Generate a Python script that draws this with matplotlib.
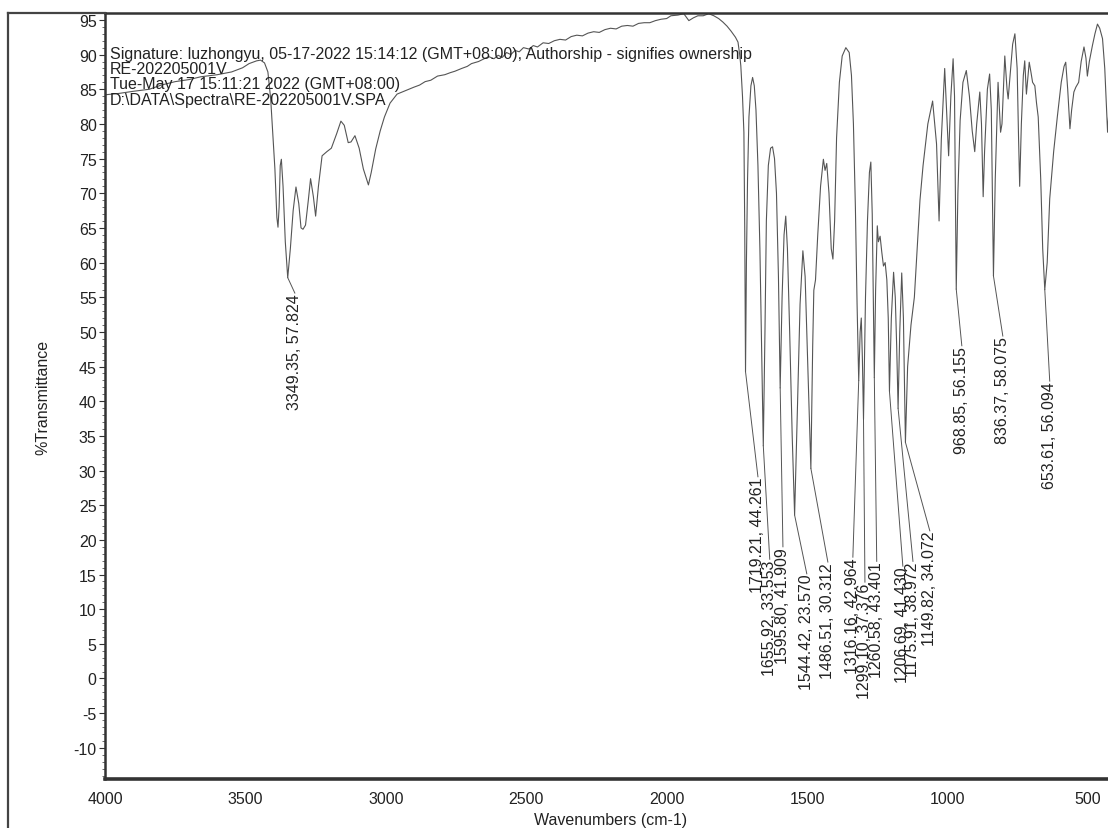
import matplotlib
matplotlib.use("Agg")
import matplotlib.pyplot as plt
from matplotlib.ticker import MultipleLocator, FixedLocator
from matplotlib.lines import Line2D

plt.rcParams['font.family'] = ['Liberation Sans', 'DejaVu Sans']
plt.rcParams['axes.unicode_minus'] = False

# ---------------- data ----------------
spectrum_wn = [
    4000, 3950, 3900, 3842, 3800, 3750, 3700, 3659, 3600, 3549, 3510, 3487, 3460, 3446, 3432, 3420,
    3410, 3400, 3395, 3388, 3384, 3380, 3376, 3372, 3366, 3358, 3340, 3330, 3320, 3310, 3302, 3295,
    3286, 3276, 3268, 3258, 3250, 3240, 3227, 3210, 3194, 3175, 3160, 3148, 3134, 3124, 3110, 3095,
    3080, 3068, 3062, 3052, 3036, 3020, 3005, 2985, 2960, 2930, 2900, 2880, 2860, 2840, 2816, 2790,
    2770, 2754, 2730, 2710, 2695, 2670, 2650, 2633, 2615, 2600, 2585, 2570, 2555, 2540, 2525, 2510,
    2490, 2475, 2460, 2440, 2420, 2400, 2380, 2360, 2340, 2320, 2300, 2280, 2260, 2240, 2220, 2200,
    2180, 2160, 2140, 2120, 2100, 2080, 2060, 2040, 2020, 2000, 1985, 1960, 1939, 1928, 1921, 1905,
    1889, 1870, 1850, 1832, 1815, 1800, 1785, 1771, 1755, 1746, 1740, 1736, 1730, 1725, 1722,
    1716, 1712, 1707, 1700, 1694, 1688, 1682, 1675, 1668, 1662,
    1650, 1645, 1638, 1630, 1623, 1616, 1609, 1602,
    1589, 1582, 1576, 1570, 1562, 1553,
    1535, 1525, 1515, 1507, 1498,
    1480, 1476, 1470, 1462, 1452, 1442, 1436, 1430, 1422, 1414, 1408, 1402, 1395, 1385, 1375, 1362,
    1350, 1342, 1335, 1328, 1322,
    1311, 1307, 1303,
    1292, 1285, 1278, 1273, 1268, 1264,
    1256, 1250, 1246, 1240, 1234, 1228, 1222, 1216, 1211,
    1200, 1192, 1186, 1181,
    1170, 1163, 1157,
    1142, 1130, 1118, 1108, 1098, 1087, 1070, 1053, 1039, 1030, 1022, 1010, 996, 988, 980, 975,
    963, 955, 945, 933, 922, 912, 903, 896, 885, 879, 873, 868, 858, 850, 844,
    830, 823, 820, 811, 806, 796, 788, 784, 775, 768, 760, 752, 747, 743, 737, 730, 725, 719, 709,
    703, 697, 689, 683, 677, 668, 661,
    645, 636, 622, 609, 595, 585, 579, 572, 564, 558, 550, 543, 533, 524, 514, 507, 502, 495, 484,
    475, 466, 458, 448, 440, 430, 422, 410, 400,
]
spectrum_T = [
    84.2, 84.4, 84.7, 85.0, 85.6, 86.1, 86.4, 86.8, 87.1, 87.5, 88.1, 88.7, 89.1, 89.2, 88.8, 87.5,
    83.6, 77.0, 73.5, 66.5, 65.1, 68.0, 74.0, 74.9, 71.0, 63.0, 62.0, 67.5, 70.9, 68.5, 65.0, 64.8,
    65.4, 69.0, 72.1, 69.5, 66.7, 71.0, 75.4, 76.0, 76.5, 78.6, 80.4, 79.8, 77.3, 77.4, 78.3, 76.5,
    73.5, 72.0, 71.2, 73.0, 76.4, 79.0, 81.0, 83.0, 84.3, 84.8, 85.3, 85.6, 86.1, 86.3, 86.9, 87.1,
    87.4, 87.6, 88.0, 88.3, 88.7, 89.0, 89.4, 89.7, 89.4, 89.9, 89.6, 90.3, 90.0, 90.6, 90.4, 91.0,
    90.8, 91.3, 91.1, 91.7, 91.6, 92.0, 92.2, 92.1, 92.6, 92.8, 92.7, 93.1, 93.3, 93.2, 93.6, 93.8,
    93.7, 94.1, 94.2, 94.1, 94.5, 94.6, 94.6, 94.9, 95.1, 95.2, 95.6, 95.7, 95.9, 95.3, 94.9, 95.3,
    95.6, 95.6, 95.9, 95.6, 95.2, 94.7, 94.1, 93.4, 92.5, 91.8, 90.0, 88.4, 84.0, 78.8, 65.0,
    60.0, 72.0, 81.0, 85.5, 86.7, 85.5, 82.0, 74.0, 62.0, 48.0,
    50.0, 66.0, 74.0, 76.5, 76.7, 75.0, 70.0, 58.0,
    55.0, 64.0, 66.7, 62.0, 50.0, 35.0,
    38.0, 54.0, 61.7, 58.0, 46.0,
    48.0, 56.0, 57.5, 64.0, 71.0, 74.9, 73.3, 74.3, 70.0, 62.0, 60.5, 66.0, 78.0, 86.0, 89.8, 91.0,
    90.3, 87.0, 80.0, 68.0, 54.0,
    50.0, 52.0, 46.0,
    55.0, 66.0, 73.0, 74.5, 67.0, 54.0,
    56.0, 65.3, 63.0, 63.8, 61.5, 59.5, 60.0, 57.5, 52.0,
    52.0, 58.6, 55.0, 48.0,
    50.0, 58.5, 52.0,
    45.0, 51.0, 55.0, 62.0, 69.0, 74.0, 80.0, 83.3, 77.1, 66.0, 77.8, 88.0, 75.4, 84.0, 89.4, 84.0,
    70.0, 80.5, 86.0, 87.7, 84.0, 79.0, 76.0, 80.0, 84.6, 80.0, 69.5, 76.0, 85.0, 87.2, 82.0,
    72.0, 82.0, 86.0, 78.8, 80.0, 89.8, 85.0, 83.6, 88.0, 91.5, 93.0, 88.0, 78.0, 71.0, 80.0, 87.0, 89.1, 84.3, 88.9,
    87.5, 86.0, 85.5, 83.0, 81.0, 72.0, 62.0,
    60.0, 69.2, 76.0, 81.0, 86.0, 88.3, 88.9, 85.0, 79.3, 82.0, 84.6, 85.3, 86.0, 89.0, 91.1, 89.5, 86.9, 89.0, 91.3,
    93.0, 94.4, 93.8, 92.3, 88.0, 78.8, 84.0, 90.0, 91.0,
]

peak_wn = [3349.35, 1719.21, 1655.92, 1595.80, 1544.42, 1486.51, 1316.16, 1299.10,
           1260.58, 1206.69, 1175.91, 1149.82, 968.85, 836.37, 653.61]
peak_T = [57.824, 44.261, 33.553, 41.909, 23.570, 30.312, 42.964, 37.376,
          43.401, 41.430, 38.972, 34.072, 56.155, 58.075, 56.094]

x_ticks = [4000, 3500, 3000, 2500, 2000, 1500, 1000, 500]

header_lines = [
    "Signature: luzhongyu, 05-17-2022 15:14:12 (GMT+08:00), Authorship - signifies ownership",
    "RE-202205001V",
    "Tue-May 17 15:11:21 2022 (GMT+08:00)",
    "D:\\DATA\\Spectra\\RE-202205001V.SPA",
]

# label anchor (top of rotated text) for each peak label, in data coords (layout)
label_anchor = [(3324, 55.6), (1675, 29.1), (1633, 17.2), (1586, 19.0), (1501, 15.1),
                (1426, 16.8), (1337, 17.5), (1294, 13.9), (1252, 16.9), (1159, 16.2),
                (1123, 16.9), (1063, 21.3), (949, 48.0), (803, 49.4), (636, 42.9)]

# ---------------- figure ----------------
W, H = 1108, 829
fig = plt.figure(figsize=(W / 100, H / 100), dpi=100)
ax = fig.add_axes([105 / W, 1 - 780 / H, (1116 - 105) / W, (780 - 14) / H])

pts = sorted(zip(spectrum_wn + peak_wn, spectrum_T + peak_T), key=lambda p: -p[0])
ax.plot([p[0] for p in pts], [p[1] for p in pts], color='#555555', lw=0.8)

for (pw, pt), (lw_, lt) in zip(zip(peak_wn, peak_T), label_anchor):
    ax.plot([pw, lw_], [pt, lt], color='#555555', lw=0.7)
    ax.text(lw_, lt, f"{pw:.2f}, {pt:.3f}", rotation=90, ha='center', va='top',
            fontsize=11.5, color='#222222')

ax.set_xlim(4000, 400)
ax.set_ylim(-14.5, 96)
ax.xaxis.set_major_locator(FixedLocator(x_ticks))
ax.yaxis.set_major_locator(MultipleLocator(5))
ax.yaxis.set_minor_locator(MultipleLocator(1))
ax.tick_params(axis='y', which='major', direction='out', length=4, width=0.8,
               labelsize=11.5, pad=2, colors='#333333', labelcolor='#222222')
ax.tick_params(axis='y', which='minor', direction='out', length=2, width=0.6, colors='#555555')
ax.tick_params(axis='x', which='major', length=0, labelsize=11.5, pad=9, labelcolor='#222222')

ax.set_xlabel("Wavenumbers (cm-1)", fontsize=11.5, color='#222222', labelpad=4)
ax.set_ylabel("%Transmittance", fontsize=11.5, color='#222222', labelpad=17)

for side, lw in [('left', 1.8), ('bottom', 2.6), ('top', 1.8), ('right', 1.8)]:
    ax.spines[side].set_linewidth(lw)
    ax.spines[side].set_color('#333333')

for i, line in enumerate(header_lines):
    fig.text(110 / W, 1 - (55 + 15 * i) / H, line, fontsize=11.5, color='#222222',
             ha='left', va='center')

# outer frame of the printout
fig.add_artist(Line2D([8 / W, 8 / W], [0, 1 - 14 / H], color='#444444', lw=1.6))
fig.add_artist(Line2D([8 / W, 105 / W], [1 - 14 / H, 1 - 14 / H], color='#444444', lw=1.6))

fig.savefig("out.png", dpi=100)
